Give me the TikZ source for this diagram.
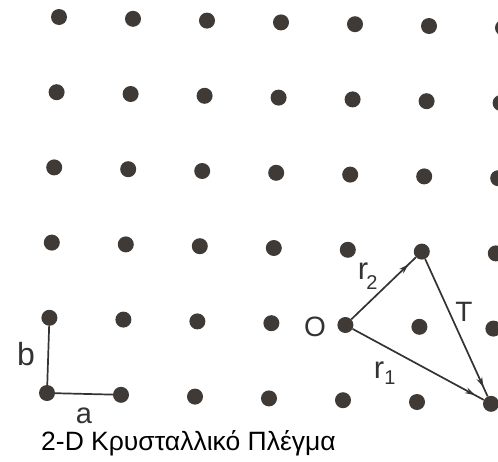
\documentclass[tikz,border=0pt]{standalone}
\usepackage{fontspec}
\setmainfont{Liberation Sans}
\usetikzlibrary{arrows.meta,decorations.markings}
\definecolor{ink}{HTML}{3F3A36}
\definecolor{pen}{HTML}{333333}
\tikzset{
  lat/.style={circle,fill=ink,draw=none,minimum size=16pt,inner sep=0pt},
  seg/.style={draw=pen,line width=1.7pt},
  vec/.style={seg,postaction={decorate},
    decoration={markings,mark=at position -10pt with {\arrow[pen]{Stealth[length=10pt,width=6pt]}}}},
  lbl/.style={inner sep=0pt,text=pen},
  sub/.style={inner sep=0pt,text=pen,font=\fontsize{20}{20}\selectfont},
}
\begin{document}
\begin{tikzpicture}[x=1pt,y=-1pt]
\useasboundingbox (0,0) rectangle (498,461);
\fill[white] (0,0) rectangle (498,461);
\foreach \i in {0,...,6}{
  \foreach \j in {0,...,5}{
    \node[lat] (d\i-\j) at ({47+74*\i+2.4*(5-\j)},{393+1.8*\i-75.2*(5-\j)}) {};
  }
}
% unit vectors a, b
\draw[seg] (d0-5) -- (d0-4);
\draw[seg] (d0-5) -- (d1-5);
% vectors
\draw[vec] (d4-4) -- (d5-3);
\draw[vec] (d4-4) -- (d6-5);
\draw[vec] (d5-3) -- (d6-5);
% labels
\node[lbl,font=\fontsize{32}{32}\selectfont] (lb) at (26,354) {b};
\node[lbl,font=\fontsize{29}{29}\selectfont] (la) at (84,416) {a};
\node[lbl,font=\fontsize{28}{28}\selectfont] (lO) at (315,327) {O};
\node[lbl,font=\fontsize{31}{31}\selectfont] (lr2) at (363,271) {r};
\node[sub] (s2) at (372,283) {2};
\node[lbl,font=\fontsize{31}{31}\selectfont] (lr1) at (379,370) {r};
\node[sub] (s1) at (390,378) {1};
\node[lbl,font=\fontsize{28}{28}\selectfont] (lT) at (464,312) {T};
\node[anchor=base west,inner sep=0pt,font=\fontsize{26.5}{26.5}\selectfont] (cap) at (41,450) {2-D Κρυσταλλικό Πλέγμα};
\end{tikzpicture}
\end{document}
